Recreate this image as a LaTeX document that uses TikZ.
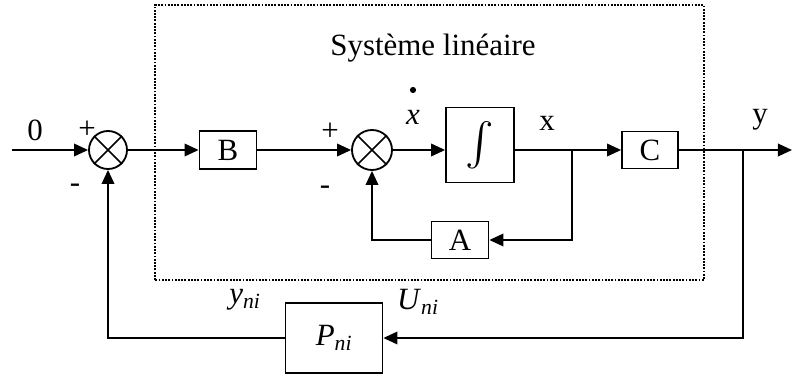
\documentclass[tikz,border=0pt]{standalone}
\usepackage{fontspec}
\setmainfont{Liberation Serif}
\usetikzlibrary{arrows.meta,positioning}

\begin{document}
\begin{tikzpicture}[line width=1.1pt,>={Triangle[length=10pt,width=9pt]},
    font=\fontsize{22}{26}\selectfont,
    blk/.style={draw,line width=1.3pt,inner sep=0pt},
    summ/.style={draw,circle,line width=1.3pt,inner sep=0pt}]
    \useasboundingbox (0,0) rectangle (19.8,9.375);
    % linear system boundary
    \draw[densely dotted,line width=1.3pt] (3.875,2.375) rectangle (17.6,9.25);
    \node (sys) at (10.825,8.175) {Système linéaire};

    \foreach \s/\x/\d in {s1/2.7/9.5mm,s2/9.3/10mm}
    {
      \node[summ,minimum size=\d] (\s) at (\x,5.625) {};
      \draw (\s.north east) -- (\s.south west) (\s.north west) -- (\s.south east);
    }
    \node[blk,minimum width=14.25mm,minimum height=9.5mm] (B) at (5.7,5.625) {B};
    \node[blk,minimum width=17mm,minimum height=18.75mm] (int) at (12,5.75) {\resizebox{!}{11.5mm}{$\int$}};
    \node[blk,minimum width=14mm,minimum height=9.25mm] (C) at (16.25,5.625) {C};
    \node[blk,minimum width=14.25mm,minimum height=9.25mm] (A) at (11.5,3.375) {A};
    \node[blk,minimum width=24.25mm,minimum height=17.5mm] (P) at (8.35,0.925) {\textit{P}\textsubscript{\textit{ni}}};

    \coordinate (in) at (0.3,5.625);
    \coordinate (out) at (19.8,5.625);
    \coordinate (bx) at (14.3,5.625);
    \coordinate (by) at (18.575,5.625);

    \draw[->] (in) -- (s1);
    \draw[->] (s1) -- (B);
    \draw[->] (B) -- (s2);
    \draw[->] (s2) -- (s2 -| int.west);
    \draw[->] (int.east |- bx) -- (C);
    \draw[->] (C) -- (out);
    \draw[->] (bx) |- (A);
    \draw[->] (A) -| (s2);
    \draw[->] (by) |- (P);
    \draw[->] (P) -| (s1);

    % signal labels and signs
    \node (zero) at (0.875,6.125) {0};
    \node (p1) at (2.175,6.125) {+};
    \node (m1) at (1.875,4.675) {-};
    \node (p2) at (8.25,6.075) {+};
    \node (m2) at (8.125,4.625) {-};
    \node (xd) at (10.325,6.45) {\textit{x}};
    \fill ([yshift=6.75mm]xd.center) circle (2.2pt);
    \node (xl) at (13.675,6.3) {x};
    \node (yl) at (19,6.375) {y};
    \node (yni) at (6.125,1.875) {\textit{y}\textsubscript{\textit{ni}}};
    \node (uni) at (10.45,1.825) {\textit{U}\textsubscript{\textit{ni}}};
\end{tikzpicture}
\end{document}
